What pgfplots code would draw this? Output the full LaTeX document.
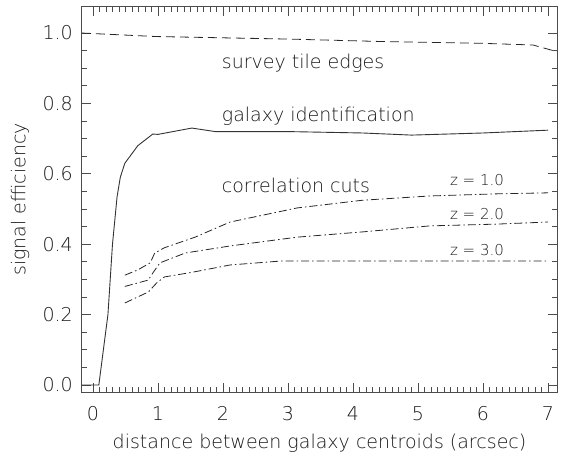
\documentclass[border=0pt]{standalone}
\usepackage{pgfplots}
\pgfplotsset{compat=1.18}
\usepackage{fontspec}
\setmainfont{DejaVu Sans ExtraLight}
\newcommand{\bigf}{\fontsize{19}{22}\selectfont}
\newcommand{\smf}{\fontsize{15}{18}\selectfont}
\begin{document}
\begin{tikzpicture}
\useasboundingbox (-82pt,-61pt) rectangle (479pt,392pt);
\begin{axis}[
  at={(0,0)}, anchor=south west,
  width=475pt, height=385pt, scale only axis,
  xmin=-0.169, xmax=7.138, ymin=-0.02, ymax=1.074,
  xtick={0,1,2,3,4,5,6,7}, ytick={0,0.2,0.4,0.6,0.8,1.0},
  minor x tick num=9, minor y tick num=3,
  tick align=inside, xtick pos=both, ytick pos=both,
  xticklabel pos=lower, yticklabel pos=left,
  major tick length=9pt, minor tick length=5pt,
  axis line style={black!70, line width=1pt},
  every tick/.style={black!70, line width=0.8pt},
  /pgf/number format/assume math mode=true,
  tick label style={font=\bigf, text=black!90},
  yticklabel style={anchor=east, inner sep=0pt, xshift=-9pt,
    /pgf/number format/fixed, /pgf/number format/fixed zerofill, /pgf/number format/precision=1},
  xticklabel style={anchor=north, inner sep=0pt, yshift=-14pt},
  xlabel={distance between galaxy centroids (arcsec)},
  ylabel={signal efficiency},
  xlabel style={at={(axis description cs:0.5,-0.132)}, anchor=center, font=\bigf, text=black!90},
  ylabel style={at={(axis description cs:-0.13,0.5)}, anchor=center, font=\bigf, text=black!90},
]
% survey tile edges
\addplot[black!85, line width=0.8pt, dash pattern=on 9pt off 5pt] coordinates {
(-0.169,1.0) (0.98,0.99) (2.98,0.983) (4.42,0.976) (5.95,0.971) (6.77,0.966) (7.138,0.947)};
% galaxy identification
\addplot[black!80, line width=0.9pt] coordinates {
(-0.169,0) (0.09,0) (0.23,0.2) (0.3,0.4) (0.37,0.534) (0.42,0.59) (0.49,0.63)
(0.69,0.68) (0.92,0.713) (1.0,0.712) (1.52,0.73) (1.88,0.72) (3.0,0.72) (4.15,0.716)
(4.9,0.71) (6.0,0.716) (7.0,0.724)};
% z = 1.0
\addplot[black!85, line width=0.8pt, dash pattern=on 8pt off 3pt on 1.5pt off 3pt] coordinates {
(0.49,0.312) (0.69,0.327) (0.88,0.347) (0.95,0.375) (1.1,0.39) (1.57,0.42) (2.11,0.463)
(3.14,0.503) (4.15,0.525) (5.18,0.537) (6.2,0.543) (7.0,0.546)};
% z = 2.0
\addplot[black!85, line width=0.8pt, dash pattern=on 8pt off 3pt on 1.5pt off 3pt] coordinates {
(0.49,0.28) (0.85,0.298) (0.92,0.318) (1.03,0.347) (1.42,0.375) (2.11,0.395) (3.14,0.42)
(4.15,0.435) (5.18,0.452) (6.2,0.457) (7.0,0.463)};
% z = 3.0
\addplot[black!85, line width=0.8pt, dash pattern=on 8pt off 3pt on 1.5pt off 3pt] coordinates {
(0.49,0.233) (0.85,0.264) (0.98,0.29) (1.1,0.307) (1.52,0.32) (2.11,0.341) (2.88,0.352)
(4,0.352) (5,0.352) (6,0.352) (7.0,0.352)};
\node[anchor=base west, font=\bigf, text=black!90, inner sep=0pt] at (axis cs:1.98,0.9) {survey tile edges};
\node[anchor=base west, font=\bigf, text=black!90, inner sep=0pt] at (axis cs:1.98,0.75) {galaxy identification};
\node[anchor=base west, font=\bigf, text=black!90, inner sep=0pt] at (axis cs:1.98,0.548) {correlation cuts};
\node[anchor=base west, font=\smf, text=black!90, inner sep=0pt] at (axis cs:5.49,0.568) {z = 1.0};
\node[anchor=base west, font=\smf, text=black!90, inner sep=0pt] at (axis cs:5.49,0.469) {z = 2.0};
\node[anchor=base west, font=\smf, text=black!90, inner sep=0pt] at (axis cs:5.49,0.369) {z = 3.0};
\end{axis}
\end{tikzpicture}
\end{document}
